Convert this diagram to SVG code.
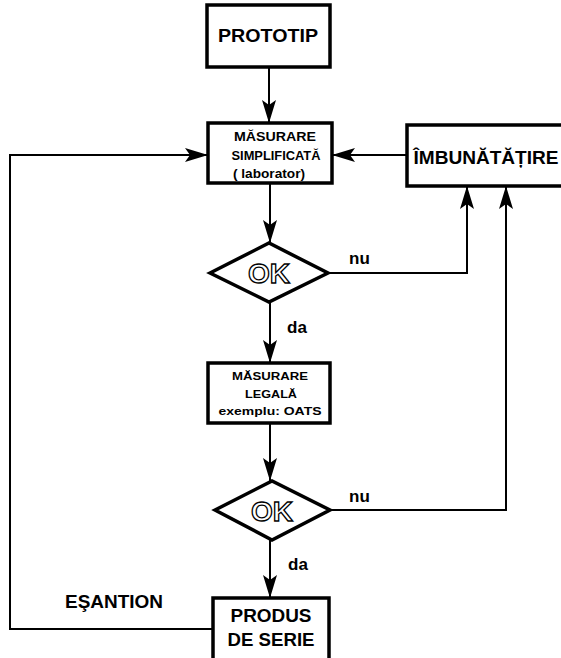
<svg xmlns="http://www.w3.org/2000/svg" width="561" height="658" viewBox="0 0 561 658">
<style>
.box{fill:#fff;stroke:#000;stroke-width:3.5}
.dia{fill:#fff;stroke:#000;stroke-width:3.5;stroke-linejoin:miter}
.t{font-family:"Liberation Sans",Arial,sans-serif;font-weight:bold;fill:#000;text-anchor:middle}
.ok{font-family:"Liberation Sans",Arial,sans-serif;font-weight:bold;fill:#fff;stroke:#000;stroke-width:1.3;text-anchor:middle;font-size:28px}
.c{fill:none;stroke:#000;stroke-width:2}
.l{font-family:"Liberation Sans",Arial,sans-serif;font-weight:bold;fill:#000;font-size:17px}
</style>
<defs>
<marker id="ah" markerUnits="userSpaceOnUse" markerWidth="23" markerHeight="14" refX="23" refY="7" orient="auto" viewBox="0 0 23 14">
<path d="M23,7 L0,0 L5,7 L0,14 Z" fill="#000"/>
</marker>
</defs>
<rect width="561" height="658" fill="#fff"/>
<g id="connectors">
<path class="c" d="M269,67 V123" marker-end="url(#ah)"/>
<path class="c" d="M270,183 V243" marker-end="url(#ah)"/>
<path class="c" d="M270,302 V363" marker-end="url(#ah)"/>
<path class="c" d="M270,423 V481" marker-end="url(#ah)"/>
<path class="c" d="M270,540 V598" marker-end="url(#ah)"/>
<path class="c" d="M328,273 H467 V186" marker-end="url(#ah)"/>
<path class="c" d="M330,510 H506 V186" marker-end="url(#ah)"/>
<path class="c" d="M407,155 H332" marker-end="url(#ah)"/>
<path class="c" d="M213,629 H10 V155 H208" marker-end="url(#ah)"/>
<text class="l" x="349" y="264">nu</text>
<text class="l" x="287" y="333">da</text>
<text class="l" x="349" y="502">nu</text>
<text class="l" x="288" y="570">da</text>
<text class="t" x="114" y="608" font-size="19" textLength="98" lengthAdjust="spacingAndGlyphs">EŞANTION</text>
</g>
<g id="prototip">
<rect class="box" x="207" y="5" width="123" height="62"/>
<text class="t" x="268" y="42" font-size="18" textLength="100" lengthAdjust="spacingAndGlyphs">PROTOTIP</text>
</g>
<g id="masurare-simplificata">
<rect class="box" x="208" y="123" width="124" height="60"/>
<text class="t" x="275" y="141" font-size="12" textLength="82" lengthAdjust="spacingAndGlyphs">MĂSURARE</text>
<text class="t" x="276" y="160" font-size="12" textLength="89" lengthAdjust="spacingAndGlyphs">SIMPLIFICATĂ</text>
<text class="t" x="269" y="178" font-size="12" textLength="72" lengthAdjust="spacingAndGlyphs">( laborator)</text>
</g>
<g id="imbunatatire">
<rect class="box" x="407" y="125" width="160" height="61"/>
<text class="t" x="486" y="164" font-size="18" textLength="145" lengthAdjust="spacingAndGlyphs">ÎMBUNĂTĂȚIRE</text>
</g>
<g id="ok1">
<polygon class="dia" points="210,273 269,243 328,273 269,302"/>
<text class="ok" x="269" y="283">OK</text>
</g>
<g id="masurare-legala">
<rect class="box" x="208" y="363" width="122" height="60"/>
<text class="t" x="270" y="380" font-size="11.5" textLength="76" lengthAdjust="spacingAndGlyphs">MĂSURARE</text>
<text class="t" x="271" y="398" font-size="11.5" textLength="52" lengthAdjust="spacingAndGlyphs">LEGALĂ</text>
<text class="t" x="270" y="415" font-size="11.5" textLength="103" lengthAdjust="spacingAndGlyphs">exemplu: OATS</text>
</g>
<g id="ok2">
<polygon class="dia" points="215,510 272,481 330,510 272,540"/>
<text class="ok" x="272" y="521">OK</text>
</g>
<g id="produs">
<rect class="box" x="213" y="598" width="116" height="66"/>
<text class="t" x="271" y="622" font-size="19" textLength="81" lengthAdjust="spacingAndGlyphs">PRODUS</text>
<text class="t" x="271" y="646" font-size="19" textLength="87" lengthAdjust="spacingAndGlyphs">DE SERIE</text>
</g>
</svg>
